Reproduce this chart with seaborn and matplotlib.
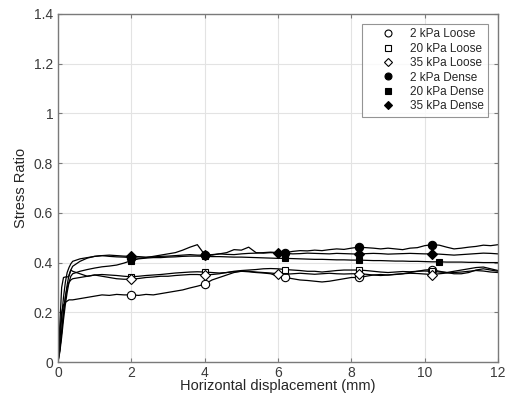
import numpy as np
import pandas as pd
import matplotlib
matplotlib.use('Agg')
import matplotlib.pyplot as plt
import seaborn as sns
from matplotlib.lines import Line2D

# sample positions (mm)
x_ramp = [0, 0.05, 0.1, 0.15, 0.2, 0.25, 0.3, 0.35]
x_main = list(np.round(np.arange(0.4, 12.001, 0.2), 2))
disp = x_ramp + x_main

loose_2 = [0, 0.12, 0.20, 0.23, 0.24, 0.245, 0.25, 0.25,
           0.25, 0.255, 0.26, 0.265, 0.27, 0.268, 0.272, 0.27, 0.27, 0.268,
           0.272, 0.27, 0.275, 0.28, 0.285, 0.29, 0.298, 0.305, 0.313, 0.33,
           0.34, 0.35, 0.36, 0.365, 0.363, 0.36, 0.358, 0.355, 0.345, 0.34,
           0.335, 0.33, 0.328, 0.325, 0.322, 0.325, 0.33, 0.335, 0.34, 0.34,
           0.345, 0.35, 0.352, 0.35, 0.353, 0.355, 0.36, 0.365, 0.37, 0.372,
           0.365, 0.36, 0.355, 0.355, 0.36, 0.37, 0.375, 0.37, 0.365]
loose_20 = [0, 0.05, 0.12, 0.2, 0.26, 0.3, 0.32, 0.33,
            0.335, 0.34, 0.345, 0.35, 0.352, 0.35, 0.348, 0.345, 0.343, 0.345,
            0.348, 0.35, 0.352, 0.355, 0.358, 0.36, 0.362, 0.363, 0.362, 0.36,
            0.358, 0.36, 0.365, 0.368, 0.37, 0.372, 0.375, 0.376, 0.375, 0.372,
            0.37, 0.368, 0.365, 0.365, 0.362, 0.365, 0.368, 0.37, 0.37, 0.37,
            0.368, 0.365, 0.362, 0.36, 0.362, 0.364, 0.363, 0.365, 0.366, 0.365,
            0.362, 0.36, 0.365, 0.37, 0.375, 0.38, 0.382, 0.375, 0.368]
loose_35 = [0, 0.15, 0.30, 0.34, 0.342, 0.342, 0.345, 0.37,
            0.365, 0.355, 0.345, 0.35, 0.345, 0.34, 0.335, 0.333, 0.333, 0.336,
            0.34, 0.342, 0.345, 0.345, 0.348, 0.35, 0.352, 0.352, 0.35, 0.352,
            0.355, 0.36, 0.363, 0.365, 0.365, 0.362, 0.36, 0.358, 0.355, 0.353,
            0.355, 0.357, 0.355, 0.353, 0.355, 0.357, 0.355, 0.354, 0.355, 0.355,
            0.353, 0.35, 0.348, 0.35, 0.352, 0.355, 0.357, 0.356, 0.354, 0.352,
            0.355, 0.358, 0.36, 0.362, 0.365, 0.368, 0.366, 0.362, 0.36]
dense_2 = [0, 0.05, 0.12, 0.2, 0.26, 0.31, 0.35, 0.37,
           0.385, 0.405, 0.418, 0.425, 0.428, 0.425, 0.423, 0.422, 0.42, 0.418,
           0.42, 0.425, 0.43, 0.435, 0.44, 0.45, 0.462, 0.472, 0.432, 0.43,
           0.435, 0.44, 0.452, 0.45, 0.462, 0.44, 0.438, 0.44, 0.438, 0.44,
           0.445, 0.448, 0.447, 0.45, 0.448, 0.452, 0.455, 0.453, 0.458, 0.462,
           0.46, 0.458, 0.455, 0.458, 0.455, 0.452, 0.458, 0.46, 0.468, 0.472,
           0.47, 0.462, 0.455, 0.458, 0.462, 0.465, 0.47, 0.468, 0.472]
dense_20 = [0, 0.04, 0.1, 0.17, 0.23, 0.28, 0.32, 0.345,
            0.355, 0.365, 0.372, 0.378, 0.383, 0.386, 0.39, 0.398, 0.408, 0.415,
            0.418, 0.42, 0.42, 0.422, 0.423, 0.425, 0.426, 0.426, 0.425, 0.424,
            0.424, 0.423, 0.422, 0.422, 0.421, 0.42, 0.419, 0.418, 0.417, 0.417,
            0.416, 0.415, 0.414, 0.413, 0.413, 0.412, 0.411, 0.411, 0.41, 0.41,
            0.409, 0.408, 0.408, 0.407, 0.406, 0.406, 0.405, 0.405, 0.404, 0.403,
            0.403, 0.402, 0.402, 0.402, 0.401, 0.401, 0.400, 0.400, 0.400]
dense_35 = [0, 0.08, 0.18, 0.26, 0.32, 0.36, 0.38, 0.395,
            0.405, 0.415, 0.42, 0.425, 0.428, 0.43, 0.428, 0.426, 0.425, 0.424,
            0.422, 0.423, 0.425, 0.426, 0.428, 0.43, 0.432, 0.43, 0.43, 0.432,
            0.435, 0.433, 0.432, 0.435, 0.437, 0.438, 0.44, 0.442, 0.44, 0.437,
            0.435, 0.436, 0.438, 0.437, 0.436, 0.435, 0.437, 0.436, 0.435, 0.434,
            0.436, 0.437, 0.436, 0.434, 0.435, 0.436, 0.437, 0.436, 0.435, 0.435,
            0.434, 0.432, 0.43, 0.432, 0.434, 0.436, 0.438, 0.437, 0.435]

labels = ['2 kPa Loose', '20 kPa Loose', '35 kPa Loose',
          '2 kPa Dense', '20 kPa Dense', '35 kPa Dense']
series = [loose_2, loose_20, loose_35, dense_2, dense_20, dense_35]
marker_x = [[2.0, 4.0, 6.2, 8.2, 10.2],
            [2.0, 4.0, 6.2, 8.2, 10.2],
            [2.0, 4.0, 6.0, 8.2, 10.2],
            [2.0, 4.0, 6.2, 8.2, 10.2],
            [2.0, 4.0, 6.2, 8.2, 10.4],
            [2.0, 4.0, 6.0, 8.2, 10.2]]
markers = ['o', 's', 'D', 'o', 's', 'D']
msizes = [6, 5, 5, 6, 5, 5]
faces = ['white', 'white', 'white', 'black', 'black', 'black']

sns.set_theme(style='white')
plt.rcParams['font.family'] = ['Liberation Sans', 'DejaVu Sans']

fig = plt.figure(figsize=(5.1, 4.03), dpi=100)
ax = fig.add_axes([0.1137, 0.1017, 0.8628, 0.8636])

for i in range(6):
    df = pd.DataFrame({'x': disp, 'y': series[i]})
    idx = [disp.index(m) for m in marker_x[i]]
    sns.lineplot(data=df, x='x', y='y', ax=ax, color='black', lw=0.9,
                 estimator=None, sort=False, marker=markers[i], markevery=idx,
                 markersize=msizes[i], markerfacecolor=faces[i],
                 markeredgecolor='black', markeredgewidth=0.8)

ax.set_xlim(0, 12)
ax.set_ylim(0, 1.4)
ax.set_xticks(range(0, 13, 2))
ax.set_yticks([0, 0.2, 0.4, 0.6, 0.8, 1, 1.2, 1.4])
ax.set_yticklabels(['0', '0.2', '0.4', '0.6', '0.8', '1', '1.2', '1.4'])
ax.grid(True, color='#e3e3e3', lw=0.8)
ax.set_axisbelow(True)
for s in ax.spines.values():
    s.set_color('#7a7a7a')
    s.set_linewidth(1.0)
ax.tick_params(direction='in', length=3, width=0.8, color='#7a7a7a',
               labelsize=10, labelcolor='#3a3a3a', top=True, right=True,
               bottom=True, left=True)
ax.tick_params(axis='x', pad=3)
ax.set_xlabel('Horizontal displacement (mm)', fontsize=10.5, color='#262626', labelpad=-1)
ax.set_ylabel('Stress Ratio', fontsize=10.5, color='#262626', labelpad=4)

handles = [Line2D([], [], ls='none', marker=markers[i], markersize=msizes[i] - 1,
                  markerfacecolor=faces[i], markeredgecolor='black',
                  markeredgewidth=0.8, label=labels[i]) for i in range(6)]
leg = ax.legend(handles=handles, loc='upper right', bbox_to_anchor=(0.978, 0.972),
                fontsize=8.5, frameon=True, fancybox=False, borderpad=0.4,
                labelspacing=0.2, handletextpad=0.05, handlelength=3.6,
                borderaxespad=0)
leg.get_frame().set_edgecolor('#7a7a7a')
leg.get_frame().set_linewidth(0.8)

fig.savefig('out.png', dpi=100)
